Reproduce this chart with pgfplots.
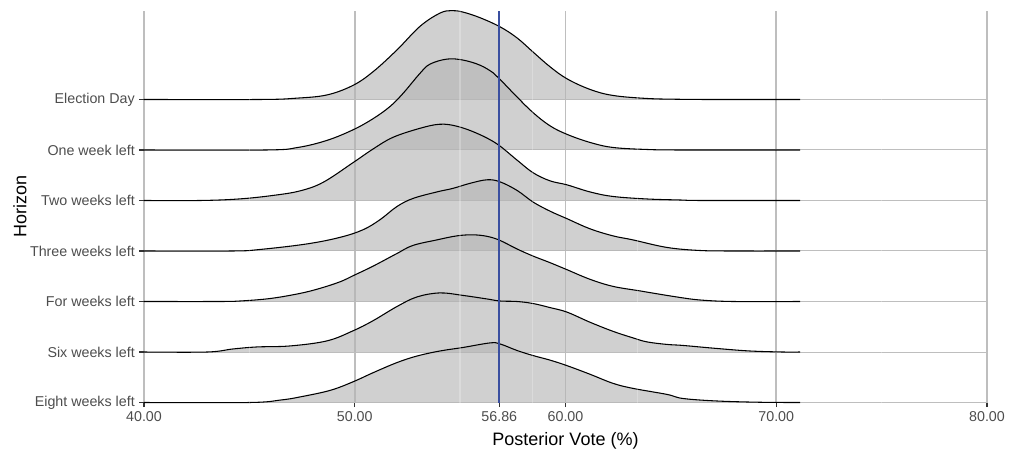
\documentclass[border=0pt]{standalone}
\usepackage{pgfplots}
\pgfplotsset{compat=1.18}
\usepackage{fontspec}
\setmainfont{Liberation Sans}
\definecolor{gridc}{HTML}{BEBEBE}
\definecolor{tickc}{HTML}{333333}
\definecolor{labc}{HTML}{4D4D4D}
\definecolor{vline}{HTML}{3A4FA0}
\definecolor{ridge}{gray}{0.71}
\begin{document}
\begin{tikzpicture}
\path[use as bounding box] (-108pt,-39.375pt) rectangle (654.75pt,301.875pt);
\begin{axis}[
  scale only axis, width=632.25pt, height=293.625pt,
  xmin=40, xmax=80, ymin=0, ymax=7.752,
  axis line style={draw=none},
  tick pos=left, tick align=outside,
  major tick length=3.4pt,
  tick style={tickc, line width=1.1pt},
  xtick={40,50,56.86,60,70,80},
  xticklabels={40.00,50.00,56.86,60.00,70.00,80.00},
  ytick={0,1,2,3,4,5,6},
  yticklabels={Eight weeks left,Six weeks left,For weeks left,Three weeks left,Two weeks left,One week left,Election Day},
  xmajorgrids, ymajorgrids,
  major x grid style={gridc, line width=1.3pt},
  major y grid style={gridc, line width=0.75pt},
  ticklabel style={font=\fontsize{10.7}{12}\selectfont, text=labc},
  xlabel={Posterior Vote (\%)}, ylabel={Horizon},
  label style={font=\fontsize{13.5}{16}\selectfont},
  xlabel style={at={(axis description cs:0.5,-0.0983)}, anchor=center},
  ylabel style={at={(axis description cs:-0.1471,0.5)}, anchor=center},
  clip=false,
  every axis plot/.append style={mark=none},
  ridge/.style={draw=black, line width=0.8pt, fill=ridge, fill opacity=0.64, smooth, tension=0.6},
]
% Election Day
\addplot[ridge] coordinates {
(40,6) (45.5,6) (47.2,6.025) (48.68,6.09) (49.92,6.28) (50.87,6.55) (52.00,6.98) (53.10,7.45) (54.04,7.71) (54.6,7.76) (55.14,7.73) (55.94,7.62) (56.89,7.44) (57.70,7.22) (58.46,6.94) (59.26,6.65) (60.07,6.41) (61.16,6.20) (62.25,6.08) (63.87,6.02) (65.43,6.004) (67,6) (71.13,6)};
% One week left
\addplot[ridge] coordinates {
(40,5) (45.8,5) (47.3,5.05) (48.68,5.19) (49.92,5.40) (50.87,5.62) (51.67,5.86) (52.29,6.12) (53.10,6.52) (53.57,6.70) (54.38,6.80) (55.14,6.78) (55.94,6.68) (56.56,6.53) (56.89,6.40) (57.70,6.05) (58.46,5.74) (59.26,5.48) (60.07,5.31) (61.16,5.15) (62.25,5.05) (63.87,5.01) (65.5,5) (71.13,5)};
% Two weeks left
\addplot[ridge] coordinates {
(40,4) (42.66,4) (44.5,4.03) (46.12,4.10) (47.4,4.19) (48.5,4.36) (49.92,4.75) (50.87,5.02) (51.81,5.25) (53.10,5.43) (54.04,5.51) (54.85,5.47) (55.80,5.33) (56.75,5.12) (57.70,4.80) (58.46,4.55) (59.26,4.39) (60.07,4.31) (61.16,4.17) (62.25,4.08) (63.87,4.03) (65.43,4.01) (66.5,4) (71.13,4)};
% Three weeks left
\addplot[ridge] coordinates {
(40,3) (44.2,3) (45.5,3.03) (47.73,3.14) (49.30,3.27) (50.39,3.42) (51.20,3.62) (52.00,3.88) (52.76,4.04) (53.90,4.17) (54.66,4.24) (55.47,4.34) (56.28,4.41) (56.89,4.37) (57.70,4.20) (58.46,3.97) (59.26,3.79) (60.07,3.64) (61.16,3.44) (62.25,3.30) (63.20,3.22) (64.82,3.07) (66.38,3.01) (68,3) (71.13,3)};
% For weeks left
\addplot[ridge] coordinates {
(40,2) (43.5,2) (44.56,2.01) (46,2.06) (47.40,2.16) (48.35,2.26) (49.30,2.39) (49.92,2.51) (50.87,2.70) (52.00,2.95) (52.76,3.11) (53.90,3.22) (54.85,3.30) (55.61,3.32) (56.28,3.29) (56.89,3.21) (57.70,3.04) (58.46,2.90) (59.26,2.77) (60.07,2.63) (61.16,2.44) (62.25,2.30) (63.53,2.21) (64.82,2.12) (65.43,2.08) (66.38,2.03) (67.95,2) (71.13,2)};
% Six weeks left
\addplot[ridge] coordinates {
(40,1) (43,1) (44.22,1.06) (45.36,1.10) (46.93,1.12) (48.68,1.22) (49.92,1.42) (50.87,1.62) (52.00,1.90) (52.95,2.09) (54.04,2.17) (55.14,2.12) (56.28,2.05) (56.89,2.01) (57.70,2.00) (58.46,1.96) (59.26,1.88) (60.07,1.79) (61.16,1.59) (62.25,1.41) (63.20,1.28) (63.87,1.20) (64.82,1.15) (65.57,1.13) (67.18,1.07) (68.75,1.02) (70.32,1.0) (71.13,1)};
% Eight weeks left
\addplot[ridge] coordinates {
(40,0) (45,0) (46.5,0.05) (47.40,0.11) (48.83,0.24) (49.92,0.41) (50.87,0.59) (52.00,0.79) (52.95,0.92) (54.04,1.02) (55.14,1.09) (56.42,1.18) (56.89,1.16) (57.70,1.03) (58.46,0.93) (59.26,0.84) (60.07,0.73) (61.16,0.56) (62.25,0.38) (63.20,0.28) (64.82,0.16) (65.57,0.08) (67.18,0.03) (69.23,0.005) (71.13,0)};
% minor grid (visible through fills)
\addplot[white, opacity=0.25, line width=1pt] coordinates {(45,0) (45,7.752)};
\addplot[white, opacity=0.25, line width=1pt] coordinates {(55,0) (55,7.752)};
\addplot[white, opacity=0.25, line width=1pt] coordinates {(58.43,0) (58.43,7.752)};
\addplot[white, opacity=0.25, line width=1pt] coordinates {(63.43,0) (63.43,7.752)};
\addplot[white, opacity=0.25, line width=1pt] coordinates {(75,0) (75,7.752)};
% reference line
\addplot[vline, line width=1.5pt] coordinates {(56.86,0) (56.86,7.752)};
\end{axis}
\end{tikzpicture}
\end{document}
